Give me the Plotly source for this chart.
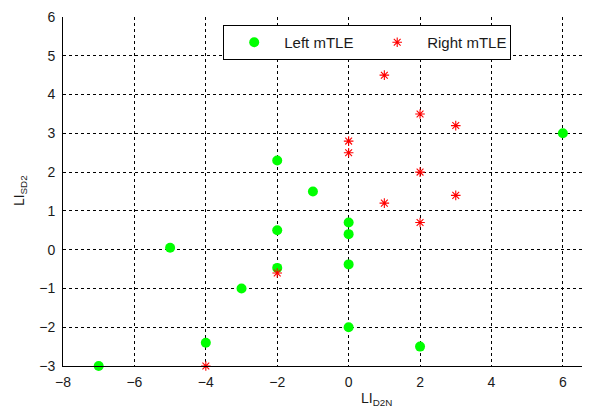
import plotly.graph_objects as go

left_x = [-7, -5, -4, -3, -2, -2, -2, -1, 0, 0, 0, 0, 2, 6]
left_y = [-3, 0.05, -2.4, -1, 2.3, 0.5, -0.47, 1.5, 0.7, 0.4, -0.38, -2, -2.5, 3]
right_x = [1, 2, 3, 0, 0, 2, 3, 1, 2, -2, -4]
right_y = [4.5, 3.5, 3.2, 2.8, 2.5, 2, 1.4, 1.2, 0.7, -0.6, -3]
x_ticks = [-8, -6, -4, -2, 0, 2, 4, 6]
y_ticks = [-3, -2, -1, 0, 1, 2, 3, 4, 5, 6]

fig = go.Figure()
fig.add_trace(go.Scatter(
    x=left_x, y=left_y, mode="markers", name="Left mTLE", cliponaxis=False,
    marker=dict(symbol="circle", size=10, color="#00ff00", line=dict(width=0))))
fig.add_trace(go.Scatter(
    x=right_x, y=right_y, mode="markers", name="Right mTLE", cliponaxis=False,
    marker=dict(symbol="asterisk-open", size=8, color="#ff0000",
                line=dict(width=1.1, color="#ff0000"))))

font = "Liberation Sans, Arial, sans-serif"
txt = "#1a1a1a"
fig.update_layout(
    width=582, height=401,
    margin=dict(l=55, r=0, t=9, b=43),
    paper_bgcolor="white", plot_bgcolor="white",
    font=dict(family=font, size=14, color=txt),
    showlegend=True,
    legend=dict(orientation="h", x=0.304, y=0.977, xanchor="left", yanchor="top",
                bgcolor="white", bordercolor="black", borderwidth=1,
                itemwidth=50, entrywidth=78, entrywidthmode="pixels",
                font=dict(size=15, color=txt)),
    xaxis=dict(range=[-8, 6.76], tickvals=x_ticks, showgrid=True,
               gridcolor="black", griddash="3px,3px", gridwidth=1,
               zeroline=False, showline=True, linecolor="black", linewidth=1,
               ticks="", ticklabelstandoff=3),
    yaxis=dict(range=[-3, 6], tickvals=y_ticks, showgrid=True,
               gridcolor="black", griddash="3px,3px", gridwidth=1,
               zeroline=False, showline=True, linecolor="black", linewidth=1,
               ticks="", ticklabelstandoff=4),
    annotations=[
        dict(text="LI<sub>D2N</sub>", x=0.594, y=-0.063, xref="paper", yref="paper",
             xanchor="center", yanchor="top", showarrow=False,
             font=dict(size=14, family=font, color=txt)),
        dict(text="LI<sub>SD2</sub>", x=-0.0816, y=0.504, xref="paper", yref="paper",
             xanchor="center", yanchor="middle", showarrow=False, textangle=-90,
             font=dict(size=14, family=font, color=txt)),
    ],
)
fig.write_html("out.html")
